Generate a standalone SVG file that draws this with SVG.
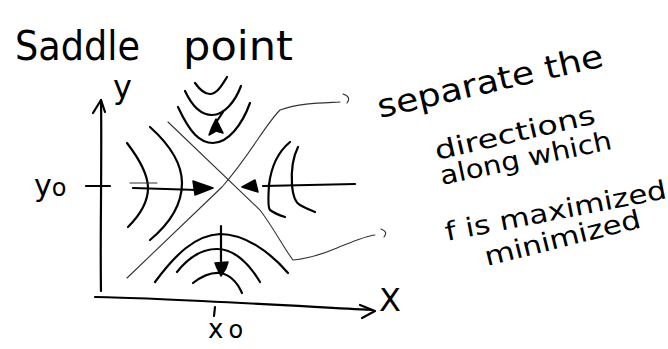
<svg xmlns="http://www.w3.org/2000/svg" width="668" height="349" viewBox="0 0 668 349">
<style>
.ink{fill:none;stroke:#000;stroke-width:2.2;stroke-linecap:round;stroke-linejoin:round}
.thin{fill:none;stroke:#333;stroke-width:1.1;stroke-linecap:round}
.fill{fill:#000;stroke:#000;stroke-width:1.5;stroke-linejoin:round}
.hand{font-family:"DejaVu Sans","Liberation Sans",sans-serif;fill:#000;font-weight:normal}
</style>
<rect width="668" height="349" fill="#fff"/>
<g id="title">
<text class="hand" x="15" y="60" font-size="40" textLength="125" lengthAdjust="spacingAndGlyphs">Saddle</text>
<text class="hand" x="183" y="60" font-size="40" textLength="110" lengthAdjust="spacingAndGlyphs">point</text>
</g>
<g id="axes">
<path class="ink" d="M101,291 C100,240 102,160 101,100"/>
<path class="ink" d="M93,113 L101,100 L105,112"/>
<path class="ink" d="M95,297 C160,298 260,304 372,310"/>
<path class="ink" d="M360,305 L375,311 L362,318"/>
<path class="ink" d="M86,186 L110,186"/>
<path class="ink" d="M215,307 L214,316"/>
<text class="hand" x="113" y="98" font-size="32">y</text>
<text class="hand" x="379" y="311" font-size="32">X</text>
<text class="hand" x="208" y="338" font-size="26">x<tspan font-size="24" dx="5">o</tspan></text>
<text class="hand" x="34" y="196" font-size="30">y<tspan font-size="24">o</tspan></text>
</g>
<g id="contours">
<path class="ink" d="M195,83 C200,90 205,94 210,94 C217,94 222,85 227,77"/>
<path class="ink" d="M185,91 C193,108 202,115 212,115 C224,115 235,102 241,86"/>
<path class="ink" d="M178,107 C190,133 200,143 213,143 C228,143 242,125 250,103"/>
<path class="ink" d="M127,143 C140,160 148,175 148,188 C148,203 140,215 128,227"/>
<path class="ink" d="M150,127 C170,145 182,165 182,183 C182,205 168,225 150,240"/>
<path class="ink" d="M290,142 C278,152 271,168 269,185 C268,200 268,208 270,210 C274,213 279,215 285,217"/>
<path class="ink" d="M298,147 C293,157 291,170 292,185 C293,197 296,203 300,205 C305,208 310,210 315,212"/>
<path class="ink" d="M155,282 C175,255 195,235 220,234 C245,234 270,252 288,273"/>
<path class="ink" d="M177,272 C188,258 202,249 217,249 C235,249 250,265 260,282"/>
<path class="ink" d="M193,283 C202,276 210,272 220,273 C232,275 238,284 242,293"/>
</g>
<g id="separatrices">
<path class="thin" d="M127,278 L222,187 C250,155 265,125 280,110 C300,103 320,103 340,102"/>
<path class="thin" d="M343,94 C349,96 350,99 347,103"/>
<path class="thin" d="M168,122 L260,210 C275,230 285,250 293,260 C305,259 318,256 337,248 C352,242 365,236 375,235"/>
<path class="thin" d="M381,229 C386,231 387,233 384,237"/>
</g>
<g id="gradients">
<path class="thin" d="M130,183 L157,183"/>
<path class="ink" d="M133,188 L198,190"/>
<path class="fill" d="M193,181 L213,188 L195,195 Z"/>
<path class="fill" d="M242,187 L255,180 L258,192 Z"/>
<path class="ink" d="M263,186 L355,184"/>
<path class="ink" d="M223,112 L217,121"/>
<path class="fill" d="M216,119 L220,127 L223,133 L216,131 L209,135 L212,127 Z"/>
<path class="ink" d="M221,226 L221,263"/>
<path class="fill" d="M215,263 L228,262 L226,268 L221,276 L217,268 Z"/>
</g>
<g id="note" class="hand">
<text x="380" y="118" font-size="32" transform="rotate(-13 380 118)" textLength="231" lengthAdjust="spacingAndGlyphs">separate the</text>
<text x="437" y="160" font-size="26" transform="rotate(-13 437 160)" textLength="164" lengthAdjust="spacingAndGlyphs">directions</text>
<text x="442" y="185" font-size="26" transform="rotate(-12 442 185)" textLength="175" lengthAdjust="spacingAndGlyphs">along which</text>
<text x="447" y="241" font-size="26" transform="rotate(-11 447 241)" textLength="225" lengthAdjust="spacingAndGlyphs">f is maximized</text>
<text x="487" y="266" font-size="26" transform="rotate(-14 487 266)" textLength="160" lengthAdjust="spacingAndGlyphs">minimized</text>
</g>
</svg>
